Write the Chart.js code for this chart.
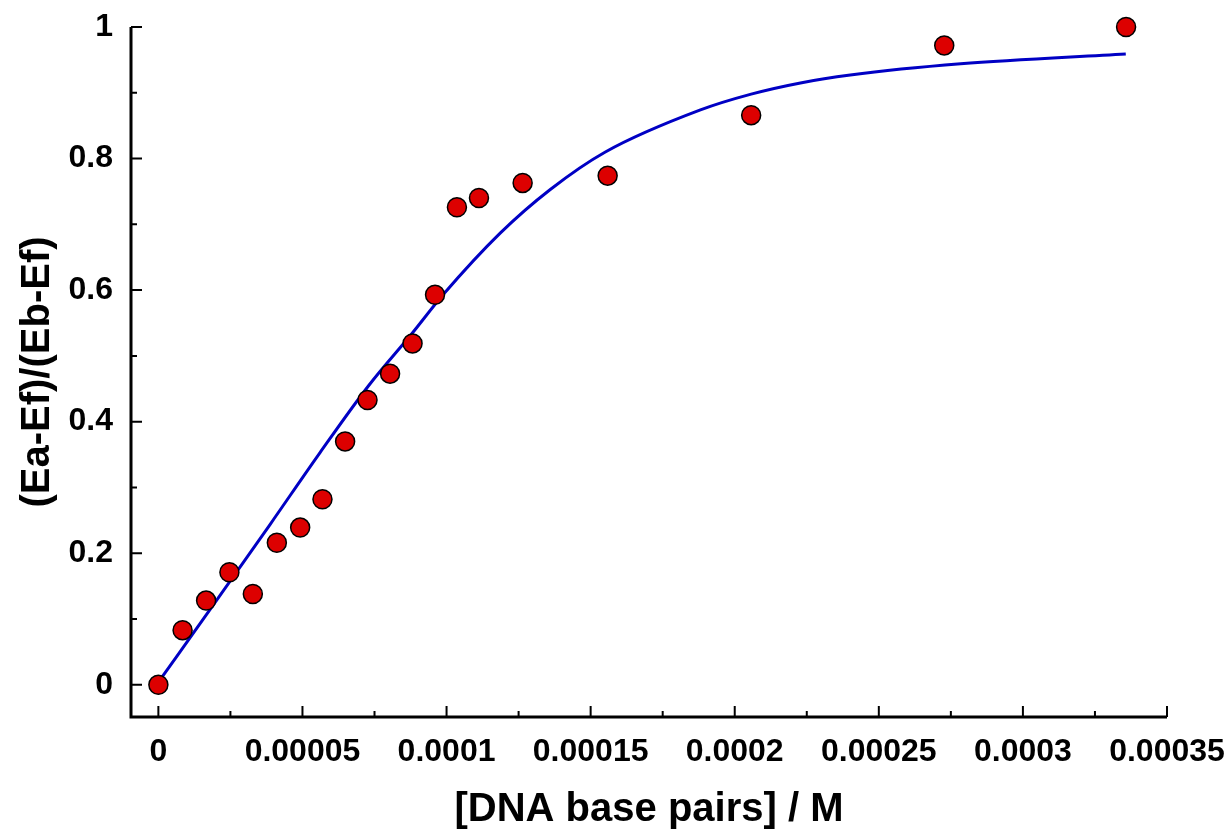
<!DOCTYPE html>
<html>
<head>
<meta charset="utf-8">
<title>DNA binding titration</title>
<script src="https://cdn.jsdelivr.net/npm/chart.js@4/dist/chart.umd.min.js"></script>
<style>
    html, body { margin: 0; padding: 0; background: #fff; }
    #wrap { width: 1229px; height: 830px; position: relative; }
</style>
</head>
<body>
<div id="wrap"><canvas id="bindingChart"></canvas></div>
<script>
// Titration data: DNA concentration (M) vs fraction bound
const dnaConc = [0, 8.4e-6, 1.656e-5, 2.465e-5, 3.278e-5, 4.111e-5, 4.92e-5, 5.694e-5, 6.48e-5, 7.257e-5,
    8.04e-5, 8.82e-5, 9.6e-5, 1.036e-4, 1.1125e-4, 1.264e-4, 1.559e-4, 2.057e-4, 2.727e-4, 3.358e-4];
const fracBound = [0, 0.083, 0.128, 0.171, 0.138, 0.216, 0.239, 0.282, 0.370, 0.433,
    0.473, 0.519, 0.593, 0.726, 0.740, 0.763, 0.774, 0.866, 0.972, 1.0];

// Fitted binding curve
const fitConc = [0, 2.03e-5, 3.88e-5, 5.61e-5, 7.3e-5, 8.8e-5, 9.9e-5, 1.187e-4, 1.36e-4, 1.551e-4,
    1.881e-4, 2.057e-4, 2.228e-4, 2.401e-4, 2.784e-4, 3.357e-4];
const fitFrac = [0.004, 0.129, 0.244, 0.353, 0.455, 0.534, 0.594, 0.687, 0.753, 0.810,
    0.874, 0.898, 0.915, 0.927, 0.944, 0.959];

// Axis ticks
const xTicks = [0, 0.00005, 0.0001, 0.00015, 0.0002, 0.00025, 0.0003, 0.00035];
const xTickLabels = ['0', '0.00005', '0.0001', '0.00015', '0.0002', '0.00025', '0.0003', '0.00035'];
const xMinorTicks = [0.000025, 0.000075, 0.000125, 0.000175, 0.000225, 0.000275, 0.000325];
const yTicks = [0, 0.2, 0.4, 0.6, 0.8, 1];
const yTickLabels = ['0', '0.2', '0.4', '0.6', '0.8', '1'];
const yMinorTicks = [0.1, 0.3, 0.5, 0.7, 0.9];

const FONT = "'Liberation Sans', Arial, Helvetica, sans-serif";

// left + bottom axis lines with inward tick marks
const axesPlugin = {
    id: 'axesPlugin',
    beforeDatasetsDraw(chart) {
        const { ctx, chartArea, scales } = chart;
        const { left, right, top, bottom } = chartArea;
        ctx.save();
        ctx.strokeStyle = '#000';
        ctx.lineWidth = 3;
        ctx.lineJoin = 'miter';
        ctx.beginPath();
        ctx.moveTo(left, top);
        ctx.lineTo(left, bottom);
        ctx.lineTo(right, bottom);
        ctx.stroke();

        ctx.lineWidth = 2;
        ctx.beginPath();
        yTicks.forEach(v => {
            const y = scales.y.getPixelForValue(v);
            ctx.moveTo(left, y);
            ctx.lineTo(left + 11, y);
        });
        yMinorTicks.forEach(v => {
            const y = scales.y.getPixelForValue(v);
            ctx.moveTo(left, y);
            ctx.lineTo(left + 6, y);
        });
        xTicks.forEach(v => {
            const x = scales.x.getPixelForValue(v);
            ctx.moveTo(x, bottom);
            ctx.lineTo(x, bottom - 11);
        });
        xMinorTicks.forEach(v => {
            const x = scales.x.getPixelForValue(v);
            ctx.moveTo(x, bottom);
            ctx.lineTo(x, bottom - 6);
        });
        ctx.stroke();
        ctx.restore();
    }
};

const ctx = document.getElementById('bindingChart').getContext('2d');
new Chart(ctx, {
    type: 'scatter',
    data: {
        datasets: [
            {
                label: 'Experimental',
                data: dnaConc.map((x, i) => ({ x: x, y: fracBound[i] })),
                backgroundColor: '#dd0000',
                borderColor: '#000',
                borderWidth: 1.5,
                pointRadius: 9.5,
                pointHoverRadius: 9.5,
                clip: false
            },
            {
                label: 'Fit',
                type: 'line',
                data: fitConc.map((x, i) => ({ x: x, y: fitFrac[i] })),
                borderColor: '#0000c4',
                borderWidth: 3,
                pointRadius: 0,
                fill: false,
                cubicInterpolationMode: 'monotone'
            }
        ]
    },
    options: {
        responsive: true,
        maintainAspectRatio: false,
        animation: false,
        layout: { padding: { left: 0, right: 62, top: 27, bottom: 0 } },
        plugins: {
            legend: { display: false },
            tooltip: { enabled: false }
        },
        scales: {
            x: {
                type: 'linear',
                min: -0.0000095,
                max: 0.00035,
                grid: { display: false, drawTicks: false },
                border: { display: false },
                afterBuildTicks: scale => { scale.ticks = xTicks.map(v => ({ value: v })); },
                afterFit: scale => {
                    // fixed box, labels may hang into the layout padding
                    scale.height = 113;
                    scale.paddingLeft = 0;
                    scale.paddingRight = 0;
                },
                ticks: {
                    autoSkip: false,
                    maxRotation: 0,
                    padding: 16,
                    color: '#000',
                    font: { family: FONT, size: 32, weight: 'bold' },
                    callback: (v, i) => xTickLabels[i]
                },
                title: {
                    display: true,
                    text: '[DNA base pairs] / M',
                    color: '#000',
                    font: { family: FONT, size: 40, weight: 'bold', lineHeight: 1 },
                    padding: { top: 0, bottom: 0 }
                }
            },
            y: {
                type: 'linear',
                min: -0.049,
                max: 1,
                grid: { display: false, drawTicks: false },
                border: { display: false },
                afterBuildTicks: scale => { scale.ticks = yTicks.map(v => ({ value: v })); },
                afterFit: scale => {
                    scale.width = 131;
                    scale.paddingTop = 0;
                    scale.paddingBottom = 0;
                },
                ticks: {
                    autoSkip: false,
                    padding: 18,
                    color: '#000',
                    font: { family: FONT, size: 32, weight: 'bold' },
                    callback: (v, i) => yTickLabels[i]
                },
                title: {
                    display: true,
                    text: '(Ea-Ef)/(Eb-Ef)',
                    color: '#000',
                    font: { family: FONT, size: 40, weight: 'bold', lineHeight: 1 },
                    padding: { top: 18, bottom: 0 }
                }
            }
        }
    },
    plugins: [axesPlugin]
});
</script>
</body>
</html>
